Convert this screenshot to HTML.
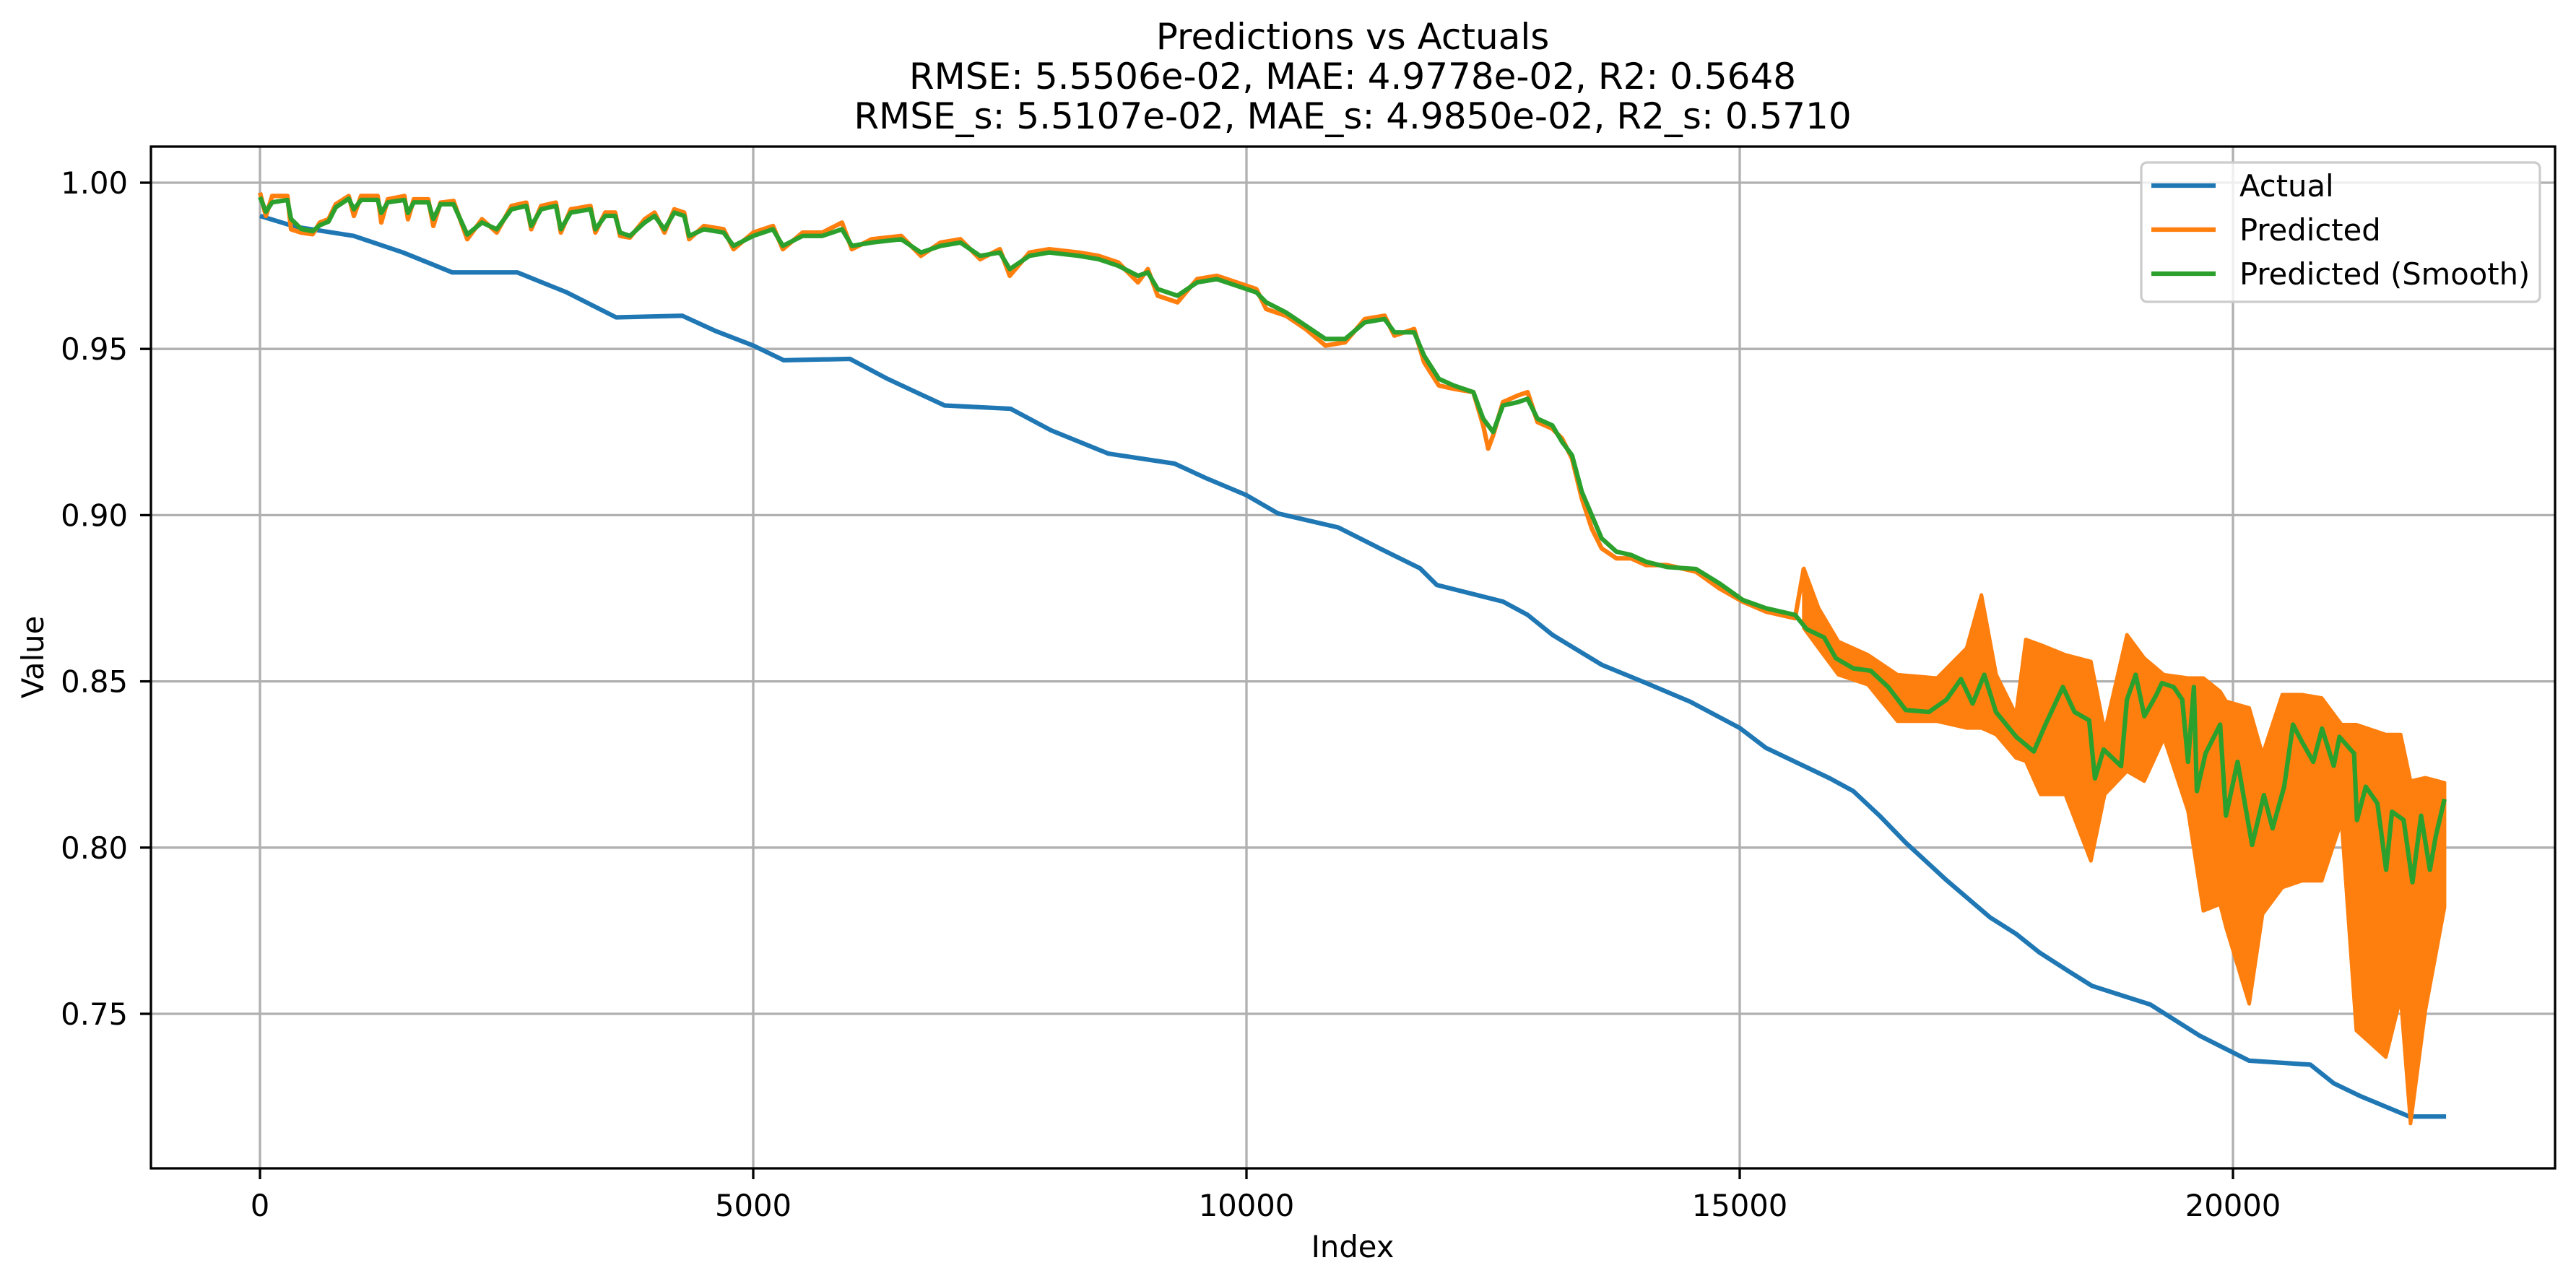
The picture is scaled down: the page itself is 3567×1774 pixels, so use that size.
<!DOCTYPE html>
<html><head><meta charset="utf-8"><style>
html,body{margin:0;padding:0;background:#fff;}
svg{display:block;font-family:"DejaVu Sans","Liberation Sans",sans-serif;}
</style></head><body>
<svg id="chart" width="3567" height="1774" viewBox="0 0 3567 1774" xmlns="http://www.w3.org/2000/svg">
<rect width="3567" height="1774" fill="#fff"/>
<g font-size="50" text-anchor="middle" fill="#000">
<text x="1873" y="68">Predictions vs Actuals</text>
<text x="1873" y="123">RMSE: 5.5506e-02, MAE: 4.9778e-02, R2: 0.5648</text>
<text x="1873" y="178">RMSE_s: 5.5107e-02, MAE_s: 4.9850e-02, R2_s: 0.5710</text>
</g>
<g id="grid"></g>
<g id="series"></g>
<rect x="209" y="203" width="3329" height="1415" fill="none" stroke="#000" stroke-width="3.3"/>
<g id="ticks"></g>
<text x="1873" y="1741" font-size="41.7" text-anchor="middle">Index</text>
<text x="0" y="0" font-size="41.7" text-anchor="middle" transform="translate(60,910) rotate(-90)">Value</text>
<g>
<rect x="2965" y="225" width="552" height="193" rx="8" fill="#fff" fill-opacity="0.8" stroke="#ccc" stroke-width="3.3"/>
<line x1="2979" y1="257" x2="3068" y2="257" stroke="#1f77b4" stroke-width="6.25"/>
<text x="3101" y="272" font-size="41.7">Actual</text>
<line x1="2979" y1="318" x2="3068" y2="318" stroke="#ff7f0e" stroke-width="6.25"/>
<text x="3101" y="333" font-size="41.7">Predicted</text>
<line x1="2979" y1="379" x2="3068" y2="379" stroke="#2ca02c" stroke-width="6.25"/>
<text x="3101" y="394" font-size="41.7">Predicted (Smooth)</text>
</g>
</svg>
<script>
const xTicks = [0, 5000, 10000, 15000, 20000];
const xTickLabels = ["0", "5000", "10000", "15000", "20000"];
const yTicks = [0.75, 0.80, 0.85, 0.90, 0.95, 1.00];
const yTickLabels = ["0.75", "0.80", "0.85", "0.90", "0.95", "1.00"];

const actualIdx = [0,366,950,1450,1950,2610,3110,3610,4280,4610,5000,5310,5980,6360,6940,7610,8020,8600,9270,9600,10000,10320,10930,11350,11760,11930,12600,12850,13100,13600,14010,14498,15000,15266,15915,16151,16417,16682,17096,17538,17804,18040,18335,18571,19162,19663,20165,20785,21021,21287,21789,22160];
const actualVal = [0.990,0.9867,0.984,0.979,0.973,0.973,0.967,0.9595,0.960,0.9555,0.951,0.9466,0.947,0.941,0.933,0.932,0.9255,0.9185,0.9155,0.911,0.906,0.9005,0.8963,0.890,0.884,0.879,0.874,0.870,0.864,0.855,0.850,0.8439,0.836,0.830,0.8208,0.817,0.8096,0.8015,0.7902,0.779,0.774,0.7684,0.7628,0.7584,0.7528,0.7434,0.7359,0.7347,0.7291,0.7253,0.7191,0.7191];

// Predicted (early part, closely tracks smooth line)
const predLineIdx = [0,60,124,278,315,417,534,607,695,768,900,952,1025,1193,1230,1296,1464,1500,1559,1706,1757,1830,1962,2101,2250,2400,2550,2700,2750,2850,3000,3050,3150,3350,3400,3500,3600,3650,3750,3900,4000,4100,4200,4300,4350,4500,4700,4800,5000,5200,5300,5500,5700,5900,6000,6200,6500,6700,6900,7100,7300,7500,7600,7800,8000,8300,8500,8700,8900,9000,9100,9300,9500,9700,9900,10100,10200,10400,10600,10800,11000,11200,11400,11500,11700,11800,11950,12100,12300,12400,12450,12500,12600,12750,12850,12950,13100,13200,13300,13400,13500,13600,13750,13900,14050,14262,14557,14793,15030,15266,15561,15650];
const predLineVal = [0.9970,0.9900,0.9960,0.9960,0.9860,0.9850,0.9845,0.9880,0.9890,0.9935,0.9960,0.9900,0.9960,0.9960,0.9880,0.9950,0.9960,0.9890,0.9950,0.9950,0.9870,0.9940,0.9945,0.9830,0.9890,0.9850,0.9930,0.9940,0.9860,0.9930,0.9940,0.9850,0.9920,0.9930,0.9850,0.9910,0.9910,0.9840,0.9835,0.9890,0.9910,0.9850,0.9920,0.9910,0.9830,0.9870,0.9860,0.9800,0.9850,0.9870,0.9800,0.9850,0.9850,0.9880,0.9800,0.9830,0.9840,0.9780,0.9820,0.9830,0.9770,0.9800,0.9720,0.9790,0.9800,0.9790,0.9780,0.9760,0.9700,0.9740,0.9660,0.9640,0.9710,0.9720,0.9700,0.9680,0.9620,0.9600,0.9560,0.9510,0.9520,0.9590,0.9600,0.9540,0.9560,0.9460,0.9390,0.9380,0.9370,0.9270,0.9200,0.9240,0.9340,0.9360,0.9370,0.9280,0.9260,0.9230,0.9170,0.9050,0.8960,0.8900,0.8870,0.8870,0.8850,0.8850,0.8830,0.8780,0.8740,0.8710,0.8690,0.8840];

// Predicted (noisy part, low/high envelope)
const predIdx = [15650,15800,16000,16300,16600,17000,17300,17450,17600,17800,17900,18050,18300,18560,18700,18925,19100,19300,19545,19700,19870,19930,20165,20300,20500,20700,20900,21100,21250,21550,21700,21800,21950,22144];
const predLo = [0.866,0.860,0.852,0.849,0.838,0.838,0.836,0.836,0.834,0.827,0.826,0.816,0.816,0.796,0.816,0.823,0.820,0.833,0.811,0.781,0.783,0.776,0.753,0.780,0.788,0.790,0.790,0.808,0.745,0.737,0.755,0.717,0.751,0.782];
const predHi = [0.884,0.872,0.862,0.858,0.852,0.851,0.860,0.876,0.852,0.840,0.8626,0.861,0.858,0.856,0.835,0.864,0.857,0.852,0.851,0.851,0.847,0.844,0.842,0.828,0.846,0.846,0.845,0.837,0.837,0.834,0.834,0.820,0.821,0.8195];

const smoothIdx = [0,60,124,278,315,417,534,607,695,768,900,952,1025,1193,1230,1296,1464,1500,1559,1706,1757,1830,1962,2101,2250,2400,2550,2700,2750,2850,3000,3050,3150,3350,3400,3500,3600,3650,3750,3900,4000,4100,4200,4300,4350,4500,4700,4800,5000,5200,5300,5500,5700,5900,6000,6200,6500,6700,6900,7100,7300,7500,7600,7800,8000,8300,8500,8700,8900,9000,9100,9300,9500,9700,9900,10100,10200,10400,10600,10800,11000,11200,11400,11500,11700,11800,11950,12100,12300,12400,12500,12600,12750,12850,12950,13100,13200,13300,13400,13500,13600,13750,13900,14050,14262,14557,14793,15030,15266,15561,15679,15856,15974,16151,16328,16505,16682,16918,17096,17243,17361,17479,17597,17804,17981,18099,18276,18394,18542,18601,18689,18866,18925,19014,19102,19221,19280,19398,19486,19545,19604,19634,19722,19870,19929,20047,20194,20313,20401,20519,20608,20696,20814,20903,21021,21080,21228,21257,21346,21464,21553,21612,21730,21819,21907,21996,22055,22144];
const smoothVal = [0.9957,0.9913,0.9941,0.9948,0.9891,0.9861,0.9854,0.9872,0.9883,0.9926,0.9952,0.992,0.9948,0.9948,0.9909,0.9941,0.9948,0.9909,0.9941,0.9941,0.9891,0.9935,0.9935,0.9844,0.988,0.986,0.992,0.993,0.987,0.992,0.993,0.986,0.991,0.992,0.986,0.990,0.990,0.985,0.984,0.988,0.990,0.986,0.991,0.990,0.984,0.986,0.985,0.981,0.984,0.986,0.981,0.984,0.984,0.986,0.981,0.982,0.983,0.979,0.981,0.982,0.978,0.979,0.974,0.978,0.979,0.978,0.977,0.975,0.972,0.973,0.968,0.966,0.970,0.971,0.969,0.967,0.964,0.961,0.957,0.953,0.953,0.958,0.959,0.955,0.955,0.948,0.941,0.939,0.937,0.929,0.925,0.933,0.934,0.935,0.929,0.927,0.922,0.918,0.907,0.900,0.893,0.889,0.888,0.886,0.8844,0.8838,0.8795,0.8745,0.872,0.870,0.8657,0.8632,0.857,0.8539,0.8532,0.8483,0.8414,0.8408,0.8445,0.8507,0.8433,0.852,0.8408,0.8333,0.8289,0.837,0.8483,0.8408,0.8383,0.8208,0.8295,0.8245,0.8445,0.852,0.8395,0.8458,0.8495,0.8483,0.8445,0.8258,0.8483,0.817,0.8283,0.837,0.8096,0.8258,0.8008,0.8158,0.8058,0.8183,0.837,0.832,0.8258,0.8358,0.8246,0.8333,0.8283,0.8083,0.8183,0.8133,0.7933,0.8108,0.8083,0.7896,0.8096,0.7933,0.8033,0.8146];

const NS = "http://www.w3.org/2000/svg";
function xScale(v){ return 360 + v * 0.1366; }
function yScale(v){ return 253 + (1 - v) * 4604; }
const grid = document.getElementById('grid');
const ticks = document.getElementById('ticks');
const series = document.getElementById('series');
function mk(tag, attrs, parent){ const e=document.createElementNS(NS,tag); for(const k in attrs) e.setAttribute(k,attrs[k]); parent.appendChild(e); return e; }

xTicks.forEach((t,i)=>{
  const x=xScale(t);
  const g=mk('line',{x1:x,y1:203,x2:x,y2:1618,stroke:'#b0b0b0','stroke-width':3.3},grid);
  
  
  const tk=mk('line',{x1:x,y1:1618,x2:x,y2:1633,stroke:'#000','stroke-width':3.3},ticks);
  
  
  const tx=mk('text',{x:x,y:1684,'font-size':41.7,'text-anchor':'middle'},ticks);
  tx.textContent=xTickLabels[i];
  
  
});
yTicks.forEach((t,i)=>{
  const y=yScale(t);
  const g=mk('line',{x1:209,y1:y,x2:3538,y2:y,stroke:'#b0b0b0','stroke-width':3.3},grid);
  
  
  const tk=mk('line',{x1:194,y1:y,x2:209,y2:y,stroke:'#000','stroke-width':3.3},ticks);
  
  
  const tx=mk('text',{x:177,y:y+15,'font-size':41.7,'text-anchor':'end'},ticks);
  tx.textContent=yTickLabels[i];
  
  
});

function pts(idx, vals){ return idx.map((d,i)=>xScale(d).toFixed(1)+','+yScale(vals[i]).toFixed(1)).join(' '); }

const actual=mk('polyline',{points:pts(actualIdx,actualVal),fill:'none',stroke:'#1f77b4','stroke-width':6.25,'stroke-linejoin':'round'},series);



const predLine=mk('polyline',{points:pts(predLineIdx,predLineVal),fill:'none',stroke:'#ff7f0e','stroke-width':6.25,'stroke-linejoin':'round'},series);



const bandPts = pts(predIdx,predHi)+' '+predIdx.slice().reverse().map((d,j)=>{const i=predIdx.length-1-j; return xScale(d).toFixed(1)+','+yScale(predLo[i]).toFixed(1);}).join(' ');
const pred=mk('polygon',{points:bandPts,fill:'#ff7f0e',stroke:'#ff7f0e','stroke-width':5,'stroke-linejoin':'round'},series);



const smooth=mk('polyline',{points:pts(smoothIdx,smoothVal),fill:'none',stroke:'#2ca02c','stroke-width':6.25,'stroke-linejoin':'round'},series);


</script>
</body></html>
